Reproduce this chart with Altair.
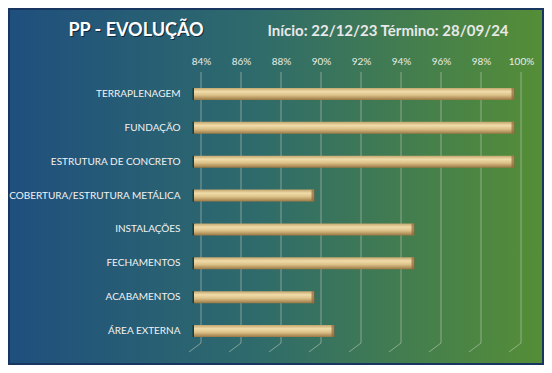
import altair as alt
import pandas as pd

categories = ["TERRAPLENAGEM", "FUNDAÇÃO", "ESTRUTURA DE CONCRETO",
              "COBERTURA/ESTRUTURA METÁLICA", "INSTALAÇÕES", "FECHAMENTOS",
              "ACABAMENTOS", "ÁREA EXTERNA"]
progress = [1.00, 1.00, 1.00, 0.90, 0.95, 0.95, 0.90, 0.91]
tick_values = [0.84, 0.86, 0.88, 0.90, 0.92, 0.94, 0.96, 0.98, 1.00]
axis_min = 0.84
axis_max = 1.00
title_text = ["PP - EVOLUÇÃO"]
subtitle_text = ["Início: 22/12/23  Término: 28/09/24"]

FONT = "Lato"
W, H = 320, 271
PL, PT, PR, PB = 186, 69, 30, 17

df = pd.DataFrame({"cat": categories, "v": progress, "base": [axis_min] * len(categories)})
ticks_df = pd.DataFrame({"v": tick_values})

xscale = alt.Scale(domain=[axis_min, axis_max], nice=False, zero=False)
xaxis = alt.Axis(orient="top", values=tick_values, format=".0%", grid=False,
                 ticks=False, tickSize=0, domain=False, labelPadding=11,
                 labelOffset=7, labelFont=FONT, labelFontSize=10, zindex=2,
                 labelFlush=False, labelOverlap=False, labelBound=False,
                 labelColor="#e8ece8", title=None)
ysort = categories

bg = alt.Chart(pd.DataFrame({"a": [0]})).mark_rect(
    color=alt.Gradient(gradient="linear", x1=0, x2=1, y1=0, y2=0,
                       stops=[alt.GradientStop(color="#1f4f7e", offset=0),
                              alt.GradientStop(color="#2e6a6c", offset=0.45),
                              alt.GradientStop(color="#558e36", offset=1)]),
    stroke="#18365f", strokeWidth=2
).encode(x=alt.value(-PL + 1), x2=alt.value(W + PR - 1),
         y=alt.value(-PT + 1), y2=alt.value(H + PB - 1))

grid = alt.Chart(ticks_df).mark_rule(color="#c8d0c0", opacity=0.55, strokeWidth=1, xOffset=7).encode(
    x=alt.X("v:Q", scale=xscale, axis=xaxis),
    y=alt.value(-5), y2=alt.value(266))

diag = alt.Chart(ticks_df).mark_rule(color="#c8d0c0", opacity=0.55, strokeWidth=1,
                                     xOffset=7, x2Offset=-5).encode(
    x=alt.X("v:Q", scale=xscale, axis=xaxis), x2="v:Q",
    y=alt.value(266), y2=alt.value(275))

yenc = alt.Y("cat:N", sort=ysort, scale=alt.Scale(paddingInner=0.0, paddingOuter=0.0),
             axis=alt.Axis(ticks=False, domain=False, labelPadding=14, labelFont=FONT,
                           labelFontSize=10, labelColor="#f2f2f2", title=None, grid=False,
                           zindex=2, labelLimit=300))

shadow = alt.Chart(df).mark_tick(color="#10201c", opacity=0.6, thickness=3, size=12, xOffset=0).encode(
    x=alt.X("base:Q", scale=xscale, axis=xaxis), y=yenc)

bars = alt.Chart(df).mark_bar(
    size=12,
    color=alt.Gradient(gradient="linear", x1=0, x2=0, y1=0, y2=1,
                       stops=[alt.GradientStop(color="#c4a56c", offset=0),
                              alt.GradientStop(color="#f0dcaa", offset=0.3),
                              alt.GradientStop(color="#dcc188", offset=0.6),
                              alt.GradientStop(color="#9a7744", offset=1)])
).encode(x=alt.X("base:Q", scale=xscale, axis=xaxis), x2="v:Q", y=yenc)

caps = alt.Chart(df).mark_tick(color="#93653a", thickness=3, size=12, xOffset=-1).encode(
    x=alt.X("v:Q", scale=xscale, axis=xaxis), y=yenc)

title_shadow = alt.Chart(pd.DataFrame({"t": title_text})).mark_text(
    font=FONT, fontSize=18, fontWeight="bold", color="#0c1e30", opacity=0.8,
    align="center", baseline="middle").encode(
    text="t:N", x=alt.value(-57), y=alt.value(-45))
title = alt.Chart(pd.DataFrame({"t": title_text})).mark_text(
    font=FONT, fontSize=18, fontWeight="bold", color="#ffffff",
    align="center", baseline="middle").encode(
    text="t:N", x=alt.value(-58), y=alt.value(-46))
subtitle = alt.Chart(pd.DataFrame({"t": subtitle_text})).mark_text(
    font=FONT, fontSize=15, fontWeight="bold", color="#e8e8e8",
    align="center", baseline="middle").encode(
    text="t:N", x=alt.value(194), y=alt.value(-46))

chart = alt.layer(bg, grid, diag, shadow, bars, caps, title_shadow, title, subtitle).properties(
    width=W, height=H,
    autosize=alt.AutoSizeParams(type="none"),
    padding={"left": PL, "top": PT, "right": PR, "bottom": PB},
).configure_view(stroke=None).configure(background="#ffffff").configure_axis(labelOverlap=False)

chart.save("out.html", embed_options={"renderer": "svg", "actions": False})
